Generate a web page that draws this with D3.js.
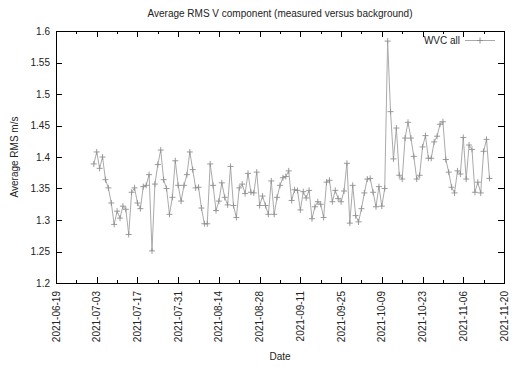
<!DOCTYPE html>
<html>
<head>
<meta charset="utf-8">
<script src="https://cdn.jsdelivr.net/npm/d3@7"></script>
<style>
  body { margin: 0; background: #fff; }
  svg { font-family: "Liberation Sans", Arial, sans-serif; }
</style>
</head>
<body>
<svg id="chart"></svg>
<script>
// first measured day, one value per day after that
var startDate = "2021-07-02";
var rmsValues = [
  1.389, 1.408, 1.382, 1.400, 1.364, 1.351, 1.327, 1.293, 1.314, 1.303,
  1.322, 1.317, 1.277, 1.344, 1.351, 1.327, 1.318, 1.353, 1.355, 1.372,
  1.251, 1.357, 1.388, 1.411, 1.364, 1.350, 1.309, 1.336, 1.394, 1.355,
  1.330, 1.355, 1.372, 1.408, 1.380, 1.351, 1.352, 1.319, 1.294, 1.294,
  1.389, 1.355, 1.315, 1.330, 1.359, 1.336, 1.324, 1.385, 1.323, 1.304,
  1.351, 1.357, 1.342, 1.374, 1.344, 1.343, 1.376, 1.323, 1.338, 1.323,
  1.309, 1.362, 1.309, 1.336, 1.355, 1.367, 1.369, 1.378, 1.331, 1.348,
  1.347, 1.316, 1.345, 1.335, 1.347, 1.302, 1.321, 1.329, 1.325, 1.304,
  1.360, 1.363, 1.329, 1.347, 1.334, 1.329, 1.346, 1.390, 1.295, 1.355,
  1.307, 1.297, 1.318, 1.343, 1.365, 1.366, 1.344, 1.321, 1.353, 1.322,
  1.350, 1.584, 1.472, 1.397, 1.446, 1.371, 1.365, 1.430, 1.455, 1.430,
  1.401, 1.365, 1.371, 1.416, 1.434, 1.398, 1.398, 1.424, 1.433, 1.452,
  1.456, 1.396, 1.376, 1.352, 1.343, 1.378, 1.373, 1.431, 1.365, 1.419,
  1.412, 1.344, 1.360, 1.343, 1.409, 1.428, 1.366
];
var xDomain = ["2021-06-19", "2021-11-20"];
var yDomain = [1.2, 1.6];
var yTicks = [1.2, 1.25, 1.3, 1.35, 1.4, 1.45, 1.5, 1.55, 1.6];
var seriesName = "WVC all";

var width = 525, height = 367;
var margin = {top: 31, right: 20, bottom: 84, left: 56};
var parse = d3.timeParse("%Y-%m-%d");
var fmt = d3.timeFormat("%Y-%m-%d");

var t0 = parse(startDate);
var data = rmsValues.map(function(v, i) {
    return {date: d3.timeDay.offset(t0, i), value: v};
});

var svg = d3.select("#chart").attr("width", width).attr("height", height);

var x = d3.scaleTime()
    .domain(xDomain.map(parse))
    .range([margin.left, width - margin.right - 1]);
var y = d3.scaleLinear()
    .domain(yDomain)
    .range([height - margin.bottom, margin.top]);

// major ticks every 14 days, minor in between
var majorX = d3.range(0, 12).map(function(i) { return d3.timeDay.offset(x.domain()[0], i * 14); });
var minorX = d3.range(0, 11).map(function(i) { return d3.timeDay.offset(x.domain()[0], i * 14 + 7); });

var x0 = x.range()[0], x1 = x.range()[1], y0 = y.range()[0], y1 = y.range()[1];

// frame
svg.append("rect")
    .attr("x", x0 + 0.5).attr("y", y1 + 0.5)
    .attr("width", x1 - x0).attr("height", y0 - y1)
    .attr("fill", "none").attr("stroke", "#000").attr("stroke-width", 1);

var ticks = svg.append("g").attr("stroke", "#000").attr("stroke-width", 1);
majorX.forEach(function(d) {
    var px = Math.round(x(d)) + 0.5;
    ticks.append("line").attr("x1", px).attr("x2", px).attr("y1", y0).attr("y2", y0 - 6);
    ticks.append("line").attr("x1", px).attr("x2", px).attr("y1", y1).attr("y2", y1 + 6);
});
minorX.forEach(function(d) {
    var px = Math.round(x(d)) + 0.5;
    ticks.append("line").attr("x1", px).attr("x2", px).attr("y1", y0).attr("y2", y0 - 3);
    ticks.append("line").attr("x1", px).attr("x2", px).attr("y1", y1).attr("y2", y1 + 3);
});
yTicks.forEach(function(v) {
    var py = Math.round(y(v)) + 0.5;
    ticks.append("line").attr("x1", x0).attr("x2", x0 + 6).attr("y1", py).attr("y2", py);
    ticks.append("line").attr("x1", x1).attr("x2", x1 - 6).attr("y1", py).attr("y2", py);
});

// tick labels
svg.append("g").selectAll("text").data(yTicks).join("text")
    .attr("x", x0 - 6).attr("y", function(d) { return y(d); })
    .attr("dy", "0.35em").attr("text-anchor", "end")
    .attr("font-size", 10).attr("fill", "#222")
    .text(function(d) { return d3.format("")(d); });

svg.append("g").selectAll("text").data(majorX).join("text")
    .attr("transform", function(d) { return "translate(" + x(d) + "," + (y0 + 8) + ") rotate(-90)"; })
    .attr("dy", "0.35em").attr("text-anchor", "end")
    .attr("font-size", 10).attr("fill", "#222")
    .text(fmt);

// titles
svg.append("text")
    .attr("x", 280).attr("y", 17).attr("text-anchor", "middle")
    .attr("font-size", 10).attr("fill", "#222")
    .text("Average RMS V component (measured versus background)");
svg.append("text")
    .attr("x", 280).attr("y", 360).attr("text-anchor", "middle")
    .attr("font-size", 10).attr("fill", "#222").text("Date");
svg.append("text")
    .attr("transform", "translate(14," + ((y0 + y1) / 2) + ") rotate(-90)")
    .attr("dy", "0.35em").attr("text-anchor", "middle")
    .attr("font-size", 10).attr("fill", "#222").text("Average RMS m/s");

// series
var line = d3.line()
    .x(function(d) { return x(d.date); })
    .y(function(d) { return y(d.value); });

svg.append("path").datum(data)
    .attr("d", line)
    .attr("fill", "none").attr("stroke", "#aaa").attr("stroke-width", 1);

var plus = function(px, py) {
    return "M" + (px - 3) + "," + py + "H" + (px + 3) + "M" + px + "," + (py - 3) + "V" + (py + 3);
};
svg.append("g").selectAll("path").data(data).join("path")
    .attr("d", function(d) { return plus(x(d.date), y(d.value)); })
    .attr("stroke", "#909090").attr("stroke-width", 0.9).attr("fill", "none");

// legend
var lg = svg.append("g");
lg.append("text").attr("x", 460).attr("y", 40).attr("dy", "0.35em")
    .attr("text-anchor", "end").attr("font-size", 10).attr("fill", "#222").text(seriesName);
lg.append("line").attr("x1", 465).attr("x2", 495).attr("y1", 40.5).attr("y2", 40.5)
    .attr("stroke", "#aaa");
lg.append("path").attr("d", plus(480, 40.5)).attr("stroke", "#909090");
</script>
</body>
</html>
